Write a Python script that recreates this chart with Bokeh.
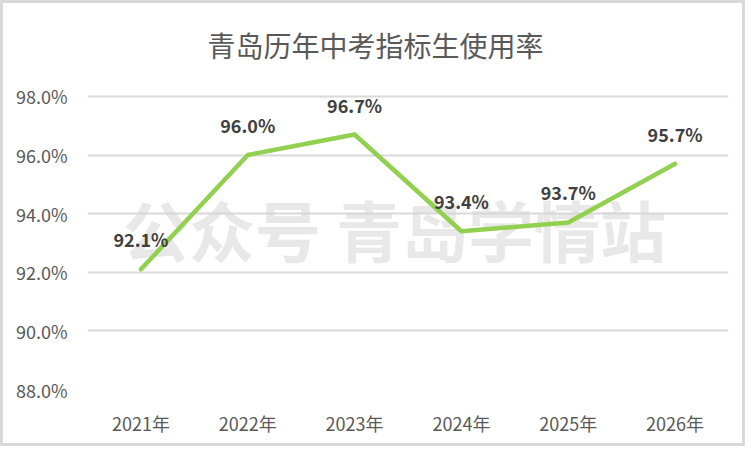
from bokeh.plotting import figure
from bokeh.models import ColumnDataSource, Label, FixedTicker, PrintfTickFormatter
from bokeh.embed import file_html
from bokeh.resources import INLINE
from bokeh.core.properties import value

years = ["2021年", "2022年", "2023年", "2024年", "2025年", "2026年"]
rates = [92.1, 96.0, 96.7, 93.4, 93.7, 95.7]
rate_labels = ["92.1%", "96.0%", "96.7%", "93.4%", "93.7%", "95.7%"]
y_ticks = [88, 90, 92, 94, 96, 98]
title_text = "青岛历年中考指标生使用率"
watermark_text = "公众号 青岛学情站"

FONT = "Noto Sans CJK SC"

src = ColumnDataSource(data=dict(year=years, rate=rates, label=rate_labels))

# the frame extends to the top of the canvas so the title can sit inside it
p = figure(x_range=years, y_range=(88, 101.17), width=745, height=446,
           output_backend="svg", toolbar_location=None,
           min_border_left=84, min_border_right=20,
           min_border_top=0, min_border_bottom=60)
p.styles = {"border": "3px solid #d9d9d9"}
p.outline_line_color = None
p.background_fill_color = "white"
p.border_fill_color = "white"

# grid
p.xgrid.grid_line_color = None
p.ygrid.grid_line_color = "#d9d9d9"
p.ygrid.grid_line_width = 2

# axes
p.yaxis.ticker = FixedTicker(ticks=y_ticks)
p.yaxis.formatter = PrintfTickFormatter(format="%.1f%%")
for ax in (p.xaxis[0], p.yaxis[0]):
    ax.axis_line_color = None
    ax.major_tick_line_color = None
    ax.minor_tick_line_color = None
    ax.major_tick_out = 0
    ax.major_tick_in = 0
    ax.major_label_text_font = FONT
    ax.major_label_text_font_size = "18px"
    ax.major_label_text_color = "#595959"
p.yaxis.major_label_standoff = 20
p.xaxis.major_label_standoff = 20

# watermark
wm = Label(x=2.874, y=93.5, text=watermark_text, text_font=FONT,
           text_font_size="66px", text_font_style="bold",
           text_color="#d6d6d6", text_alpha=0.55,
           text_align="center", text_baseline="middle", level="underlay")
p.add_layout(wm)

# line
p.line(x="year", y="rate", source=src, line_color="#92D050", line_width=4.5,
       line_join="round", line_cap="round")

# data labels
p.text(x="year", y="rate", text="label", source=src, y_offset=-30,
       text_font=value(FONT), text_font_size="18px", text_font_style="bold",
       text_color="#404040", text_align="center", text_baseline="middle")

# title
t = Label(x=2.696, y=99.77, text=title_text,
          text_font=FONT, text_font_size="28px", text_color="#595959",
          text_align="center", text_baseline="middle")
p.add_layout(t)

open("out.html", "w").write(file_html(p, INLINE))
